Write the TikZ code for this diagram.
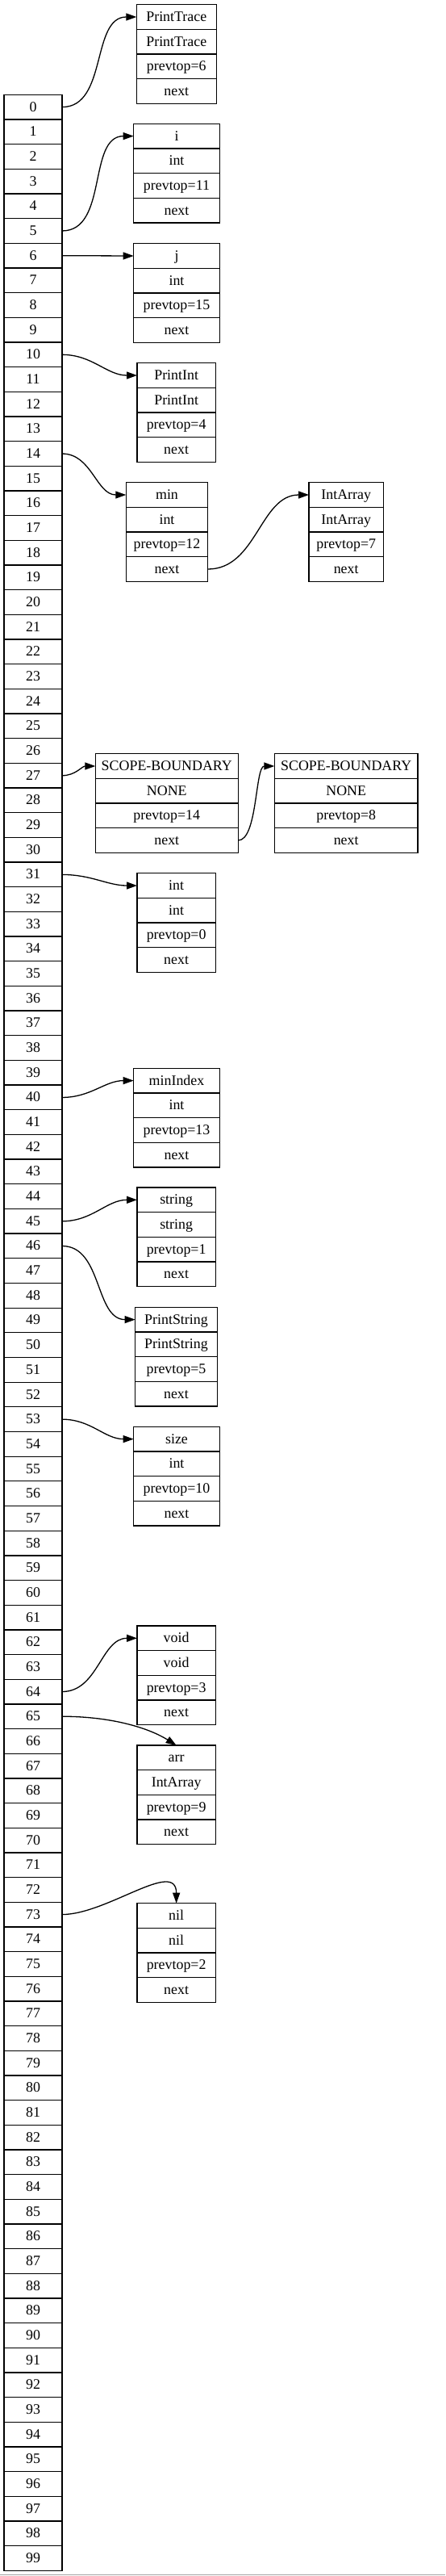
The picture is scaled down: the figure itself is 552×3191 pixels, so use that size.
\documentclass[tikz,border=0pt]{standalone}
\usepackage{fontspec}
\setmainfont{Liberation Serif}
\usetikzlibrary{arrows.meta,positioning}
\def\rowh{30.67}
\tikzset{
  cell/.style={draw,line width=1.3pt,minimum width=72pt,minimum height=\rowh pt,
    inner sep=0pt,outer sep=0pt,text height=13pt,text depth=2pt,
    font=\fontsize{17.9}{20}\selectfont},
  field/.style={cell},
  link/.style={->,>={Triangle[length=13pt,width=9pt]},line width=1.3pt},
}
% one symbol record: name, position, width, name text, type text, prevtop text
\newcommand{\symrec}[6]{%
  \node[field,minimum width=#3] (#1) at #2 {#4};
  \node[field,minimum width=#3,below=0pt of #1] (#1-type) {#5};
  \node[field,minimum width=#3,below=0pt of #1-type] (#1-prev) {#6};
  \node[field,minimum width=#3,below=0pt of #1-prev] (#1-next) {next};
}
\begin{document}
\begin{tikzpicture}[x=1pt,y=-1pt]
        \useasboundingbox (0,0) rectangle (552,3191);
        %
        % hash table
        \foreach \i in {0,...,99}
          \node[cell] (c\i) at (41,132.64+\rowh*\i) {\i};
        %
        % symbol records
        \symrec{rPrintTrace}{(218.8,21.0)}{99pt}{PrintTrace}{PrintTrace}{prevtop=6}
        \symrec{ri}{(219,168.6)}{106.6pt}{i}{int}{prevtop=11}
        \symrec{rj}{(219,317.0)}{106.6pt}{j}{int}{prevtop=15}
        \symrec{rPrintInt}{(218.65,465.0)}{97.3pt}{PrintInt}{PrintInt}{prevtop=4}
        \symrec{rmin}{(207,613.0)}{101.4pt}{min}{int}{prevtop=12}
        \symrec{rIntArray}{(429.2,613.0)}{92.3pt}{IntArray}{IntArray}{prevtop=7}
        \symrec{rscopeA}{(206.8,949.0)}{177pt}{SCOPE-BOUNDARY}{NONE}{prevtop=14}
        \symrec{rscopeB}{(429.2,949.0)}{177.7pt}{SCOPE-BOUNDARY}{NONE}{prevtop=8}
        \symrec{rint}{(218.65,1097.0)}{97.3pt}{int}{int}{prevtop=0}
        \symrec{rminIndex}{(219,1338.6)}{106.6pt}{minIndex}{int}{prevtop=13}
        \symrec{rstring}{(218.65,1486.3)}{97.3pt}{string}{string}{prevtop=1}
        \symrec{rPrintString}{(218.5,1634.6)}{101.6pt}{PrintString}{PrintString}{prevtop=5}
        \symrec{rsize}{(219,1782.6)}{106.6pt}{size}{int}{prevtop=10}
        \symrec{rvoid}{(218.65,2029.3)}{97.3pt}{void}{void}{prevtop=3}
        \symrec{rarr}{(218.65,2177.3)}{97.3pt}{arr}{IntArray}{prevtop=9}
        \symrec{rnil}{(218.65,2373.0)}{97.3pt}{nil}{nil}{prevtop=2}
        %
        % buckets
        \draw[link] (c0.east) to[out=0,in=180] (rPrintTrace.west);
        \draw[link] (c5.east) to[out=0,in=180] (ri.west);
        \draw[link] (c6.east) -- (rj.west);
        \draw[link] (c10.east) to[out=0,in=180] (rPrintInt.west);
        \draw[link] (c14.east) to[out=0,in=180] (rmin.west);
        \draw[link] (c27.east) to[out=0,in=180] (rscopeA.west);
        \draw[link] (c31.east) to[out=0,in=180] (rint.west);
        \draw[link] (c40.east) to[out=0,in=180] (rminIndex.west);
        \draw[link] (c45.east) to[out=0,in=180] (rstring.west);
        \draw[link] (c46.east) to[out=0,in=180] (rPrintString.west);
        \draw[link] (c53.east) to[out=0,in=180] (rsize.west);
        \draw[link] (c64.east) to[out=0,in=180] (rvoid.west);
        \draw[link] (c65.east) .. controls +(60,0) and +(-35,-22) .. (rarr.north);
        \draw[link] (c73.east) to[out=0,in=90] (rnil.north);
        %
        % chains
        \draw[link] (rmin-next.east) to[out=0,in=180] (rIntArray.west);
        \draw[link] (rscopeA-next.east) to[out=0,in=180,looseness=0.6] (rscopeB.west);
        %
        \draw[gray!70,line width=0.8pt] (0,3189.5) -- (552,3189.5);
      \end{tikzpicture}
\end{document}
